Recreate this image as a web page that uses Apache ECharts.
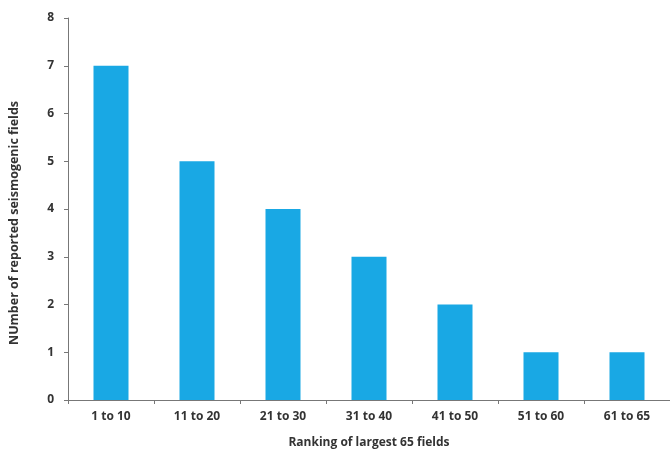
<!DOCTYPE html>
<html><head><meta charset="utf-8">
<script src="https://cdn.jsdelivr.net/npm/echarts@6/dist/echarts.min.js"></script>
<style>html,body{margin:0;padding:0;background:#fff}#c{width:670px;height:454px}</style>
</head><body><div id="c"></div>
<script>
const categories = ["1 to 10","11 to 20","21 to 30","31 to 40","41 to 50","51 to 60","61 to 65"];
const counts = [7,5,4,3,2,1,1];
const yTicks = [0,1,2,3,4,5,6,7,8];

const chart = echarts.init(document.getElementById('c'));
const font = '"Open Sans", "Liberation Sans", sans-serif';
chart.setOption({
  animation:false,
  textStyle:{fontFamily:font},
  grid:{left:67,right:0,top:18,bottom:54},
  xAxis:{
    type:'category', data:categories,
    name:'Ranking of largest 65 fields', nameLocation:'middle', nameGap:37,
    nameTextStyle:{fontSize:12,fontWeight:'bold',color:'#333',fontFamily:font},
    axisLine:{lineStyle:{color:'#777',width:1}},
    axisTick:{show:true,alignWithLabel:false,length:4,lineStyle:{color:'#777'}},
    axisLabel:{fontSize:12,fontWeight:'bold',color:'#333',margin:11,fontFamily:font}
  },
  yAxis:{
    type:'value', min:yTicks[0], max:yTicks[yTicks.length-1], interval:1,
    name:'NUmber of reported seismogenic fields', nameLocation:'middle', nameGap:47,
    nameTextStyle:{fontSize:12.5,fontWeight:'bold',color:'#333',fontFamily:font,padding:[0,28,0,0]},
    axisLine:{show:true,lineStyle:{color:'#777',width:1}},
    axisTick:{show:true,length:4,lineStyle:{color:'#777'}},
    splitLine:{show:false},
    axisLabel:{fontSize:12,fontWeight:'bold',color:'#333',margin:14,fontFamily:font}
  },
  series:[{
    type:'bar', data:counts, barWidth:35,
    itemStyle:{color:'#19a8e4'}
  }]
});
</script></body></html>
